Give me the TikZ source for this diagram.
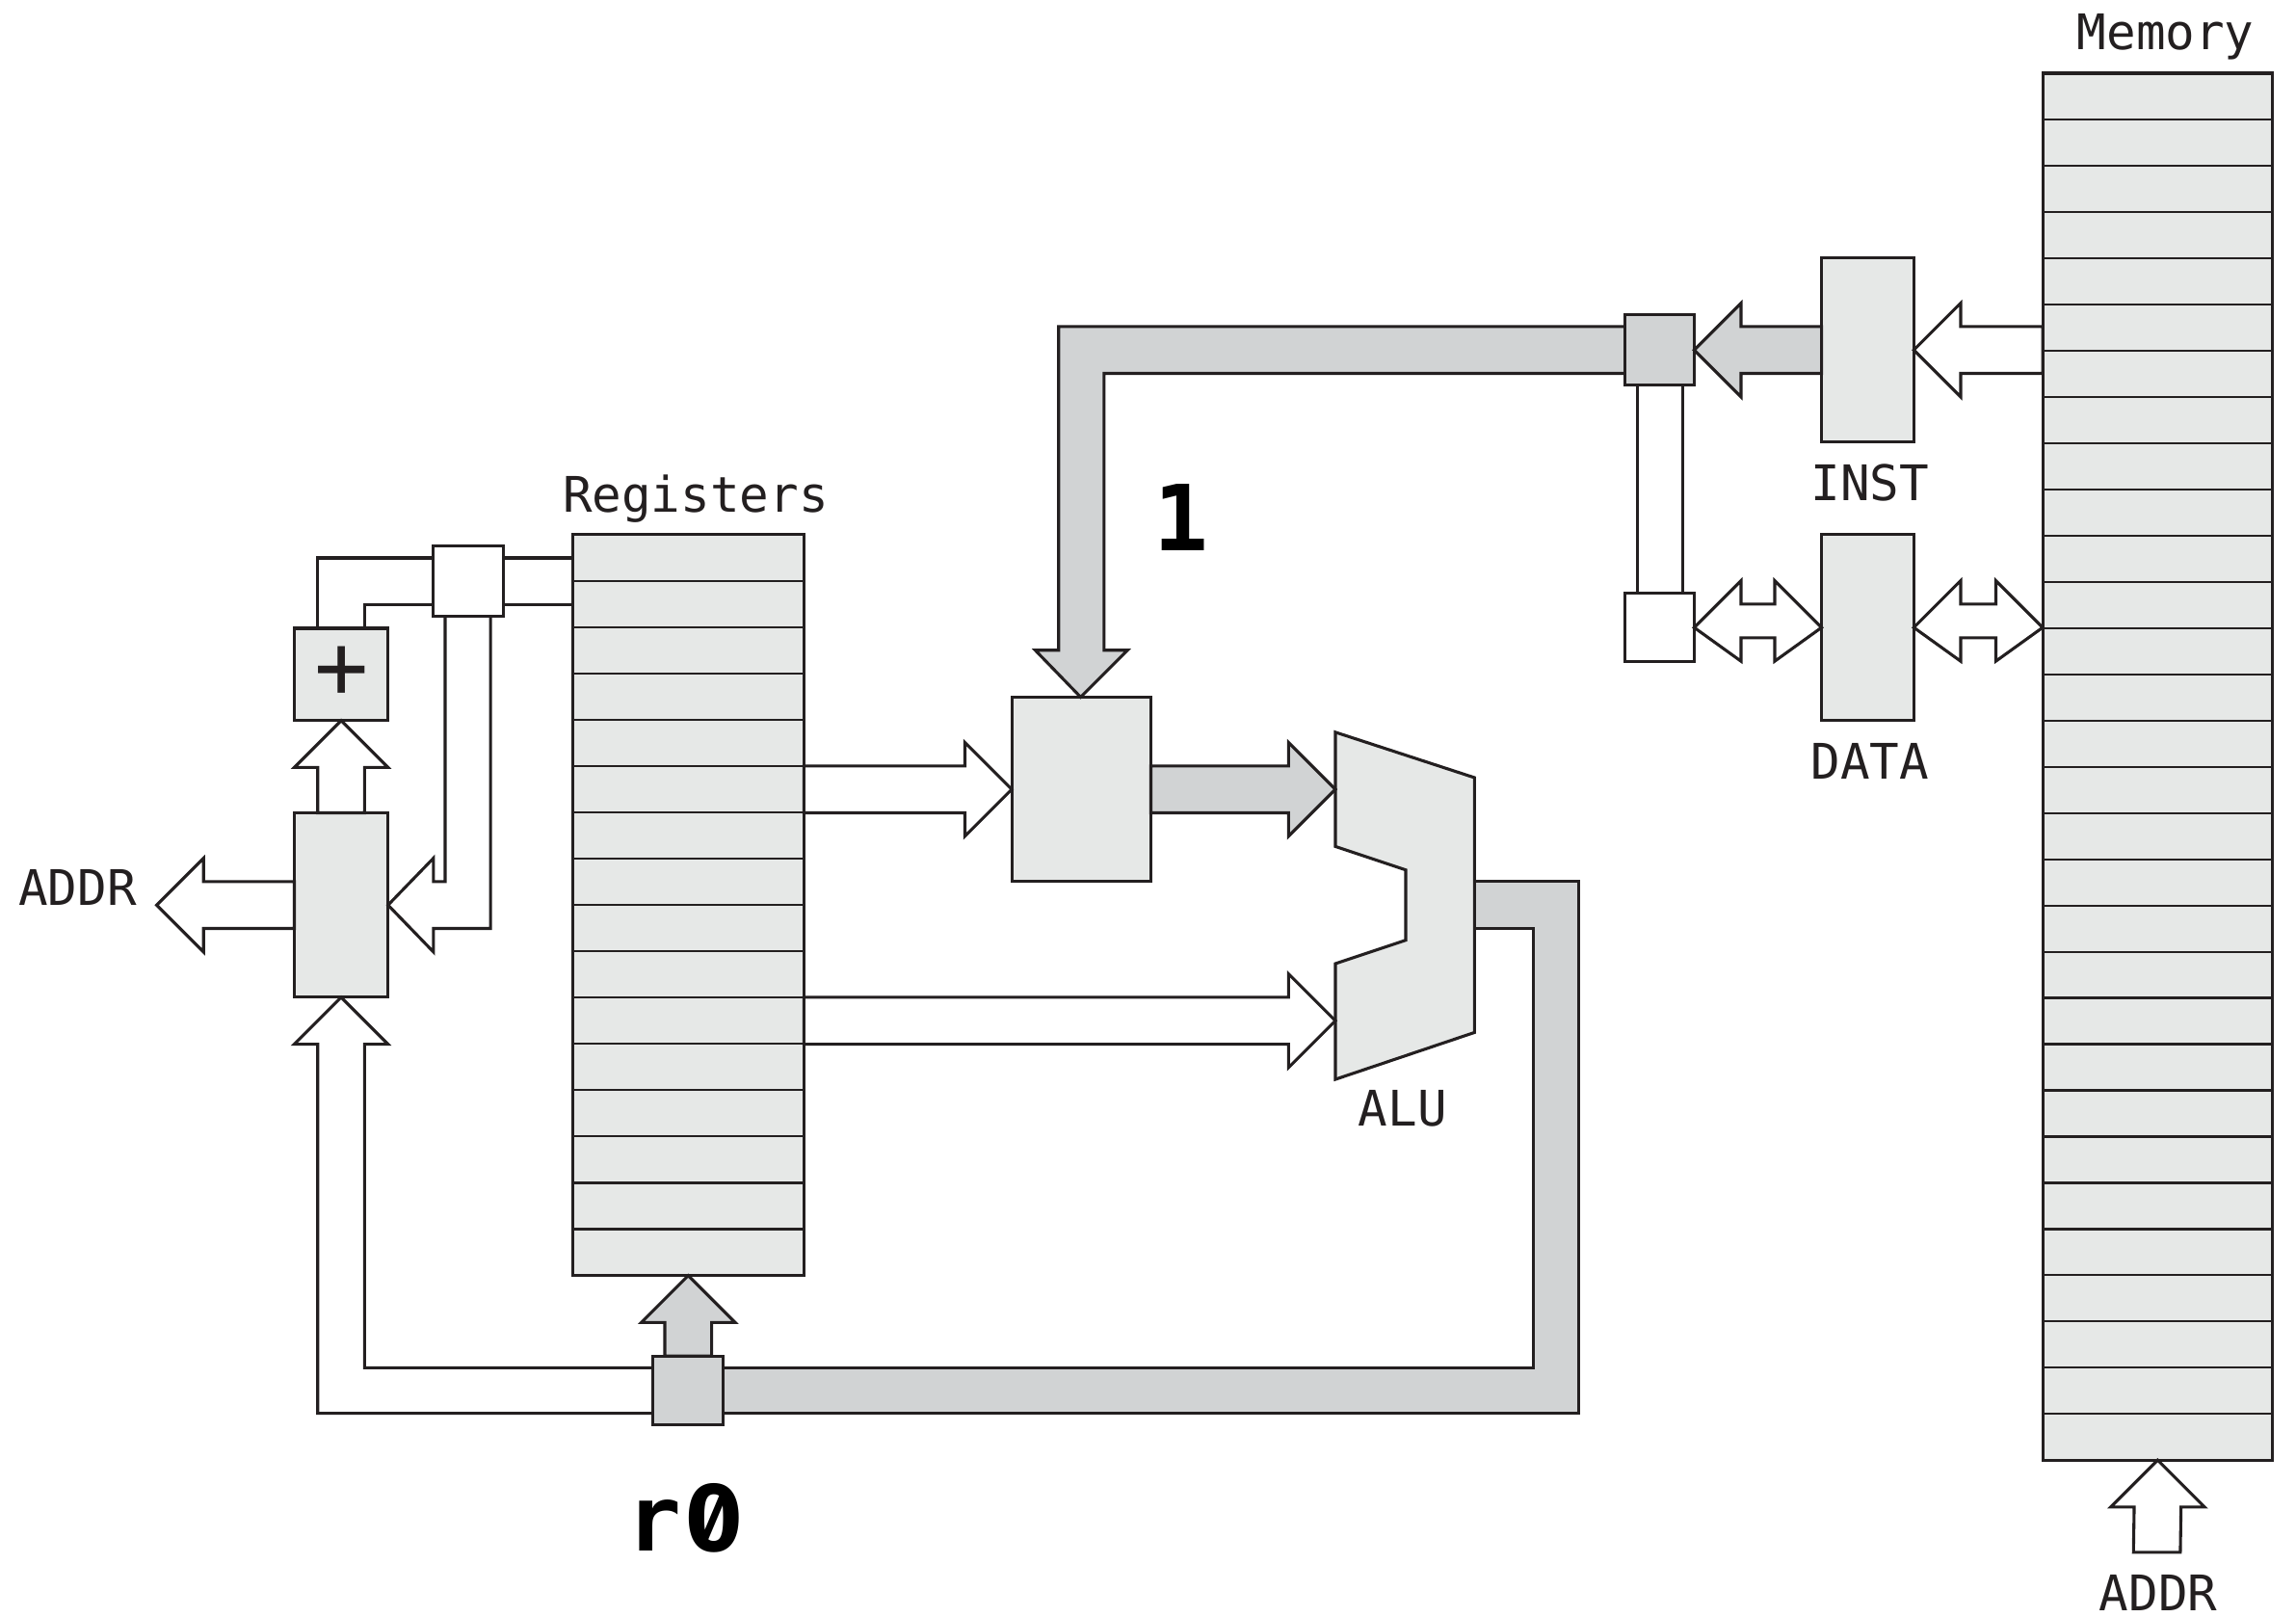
\documentclass[tikz,border=0pt]{standalone}
\usepackage{fontspec}
\setmonofont{DejaVu Sans Mono}
\newfontfamily\zerofont[RawFeature=+zero]{Fira Sans}
\usetikzlibrary{calc}
\definecolor{inkc}{HTML}{231F20}
\definecolor{lightfill}{HTML}{E6E8E7}
\definecolor{busfill}{HTML}{D1D3D4}
\newcommand{\blk}[6]{\node[#6, minimum width={(#4-#2)*0.01cm}, minimum height={(#5-#3)*0.01cm}] (#1) at ({(#2+#4)/2},{(#3+#5)/2}) {};}
% horizontal block arrow: style, tip, tail, direction of the head from the tip
\newcommand{\harrow}[4]{\draw[#1] (#2) -- ($(#2)+(#4*32,-32)$) -- ($(#2)+(#4*32,-16)$) -- ($(#3)+(0,-16)$) -- ($(#3)+(0,16)$) -- ($(#2)+(#4*32,16)$) -- ($(#2)+(#4*32,32)$) -- cycle;}
% vertical block arrow pointing up: style, tip, tail
\newcommand{\uarrow}[3]{\draw[#1] (#2) -- ($(#2)+(32,32)$) -- ($(#2)+(16,32)$) -- ($(#3)+(16,0)$) -- ($(#3)+(-16,0)$) -- ($(#2)+(-16,32)$) -- ($(#2)+(-32,32)$) -- cycle;}
% double-headed arrow between two anchors
\newcommand{\darrow}[2]{\draw[buswhite] (#1) -- ($(#1)+(32,-32)$) -- ($(#1)+(32,-16)$) -- ($(#2)+(-32,-16)$) -- ($(#2)+(-32,-32)$) -- (#2) -- ($(#2)+(-32,23)$) -- ($(#2)+(-32,7)$) -- ($(#1)+(32,7)$) -- ($(#1)+(32,23)$) -- cycle;}
\tikzset{
  x=0.01cm, y=-0.01cm,
  outl/.style={draw=inkc, line width=0.58pt, line join=miter, miter limit=10},
  lightbox/.style={outl, fill=lightfill, inner sep=0pt, outer sep=0pt, rectangle},
  greybox/.style={outl, fill=busfill, inner sep=0pt, outer sep=0pt, rectangle},
  whitebox/.style={outl, fill=white, inner sep=0pt, outer sep=0pt, rectangle},
  buswhite/.style={outl, fill=white},
  busgrey/.style={outl, fill=busfill},
  rowline/.style={draw=inkc, line width=0.4pt},
  lab/.style={text=inkc, anchor=base, inner sep=0pt, font=\ttfamily\fontsize{9.52}{11}\selectfont},
  biglab/.style={text=black, anchor=base, inner sep=0pt, font=\ttfamily\bfseries\fontsize{17.7}{20}\selectfont},
}
\begin{document}
\begin{tikzpicture}
\useasboundingbox (0,0) rectangle (1568,1104);
% named points of the ALU
\coordinate (aluA) at (912,539);
\coordinate (aluB) at (912,697);
% large boxes
\blk{mem}{1395}{50}{1552}{997}{lightbox}
\blk{reg}{391}{365}{549}{871}{lightbox}
\blk{inst}{1244}{176}{1307}{302}{lightbox}
\blk{data}{1244}{365}{1307}{492}{lightbox}
\blk{opbox}{691}{476}{786}{602}{lightbox}
\blk{pc}{201}{555}{265}{681}{lightbox}
\blk{adder}{201}{429}{265}{492}{lightbox}
\foreach \i in {1,...,29} {\draw[rowline] ($(mem.north west)+(0,31.57*\i)$) -- ($(mem.north east)+(0,31.57*\i)$);}
\foreach \i in {1,...,15} {\draw[rowline] ($(reg.north west)+(0,31.62*\i)$) -- ($(reg.north east)+(0,31.62*\i)$);}
% ALU
\draw[outl, fill=lightfill] (912,500) -- (1007,531) -- (1007,705) -- (912,737) -- (912,658) -- (960,642) -- (960,594) -- (912,578) -- cycle;
% main instruction band
\draw[busgrey] (1130,223) -- (723,223) -- (723,444) -- (707,444) -- (738,476) -- (770,444) -- (754,444) -- (754,255) -- (1130,255) -- cycle;
% band between the two small right boxes
\draw[buswhite] (1118,240) rectangle (1149,430);
% ALU output band
\draw[busgrey] (1007,602) -- (1078,602) -- (1078,965) -- (470,965) -- (470,934) -- (1047,934) -- (1047,634) -- (1007,634) -- cycle;
% band from the r0 box to the PC
\draw[buswhite] (470,934) -- (249,934) -- (249,713) -- (265,713) -- (233,681) -- (201,713) -- (217,713) -- (217,965) -- (470,965) -- cycle;
% registers to top small box to adder
\draw[buswhite] (391,381) -- (217,381) -- (217,429) -- (249,429) -- (249,413) -- (391,413) -- cycle;
% top small box to PC
\draw[buswhite] (304,400) -- (304,602) -- (296,602) -- (296,586) -- (265,618) -- (296,650) -- (296,634) -- (335,634) -- (335,400) -- cycle;
% small boxes on top of the bands
\blk{muxI}{1110}{215}{1157}{263}{greybox}
\blk{muxD}{1110}{405}{1157}{452}{whitebox}
\blk{muxR}{446}{926}{494}{973}{greybox}
\blk{muxP}{296}{373}{344}{421}{whitebox}
% block arrows
\harrow{busgrey}{muxI.east}{inst.west |- muxI.east}{1}
\harrow{buswhite}{inst.east |- muxI.east}{mem.west |- muxI.east}{1}
\darrow{muxD.east |- data.west}{data.west}
\darrow{data.east}{mem.west |- data.east}
\harrow{buswhite}{opbox.west}{reg.east |- opbox.west}{-1}
\harrow{busgrey}{aluA}{opbox.east}{-1}
\harrow{buswhite}{aluB}{reg.east |- aluB}{-1}
\coordinate (pcLeftTip) at (107,618);
\harrow{buswhite}{pcLeftTip}{pc.west |- pcLeftTip}{1}
\uarrow{buswhite}{adder.south}{pc.north}
\uarrow{busgrey}{reg.south}{muxR.north}
\coordinate (memAddrTail) at (1473,1060);
\uarrow{buswhite}{mem.south}{memAddrTail}
% labels
\node[lab] (tMem) at (1479,34) {Memory};
\node[lab] (tReg) at (475,350) {Registers};
\node[lab] (tInst) at (1277,342) {INST};
\node[lab] (tData) at (1277,532) {DATA};
\node[lab] (tAlu) at (958,769) {ALU};
\node[lab] (tAddrL) at (53,618) {ADDR};
\node[lab] (tAddrM) at (1474,1100) {ADDR};
\node[biglab] (tOne) at (807,376) {1};
\node[biglab] (tRz) at (467.5,1059) {r\kern0.7pt{\zerofont\bfseries\fontsize{19}{20}\selectfont 0}};
\node[biglab, text=inkc, font=\ttfamily\fontsize{17.5}{20}\selectfont] (tPlus) at (233.5,477) {+};
\end{tikzpicture}
\end{document}
